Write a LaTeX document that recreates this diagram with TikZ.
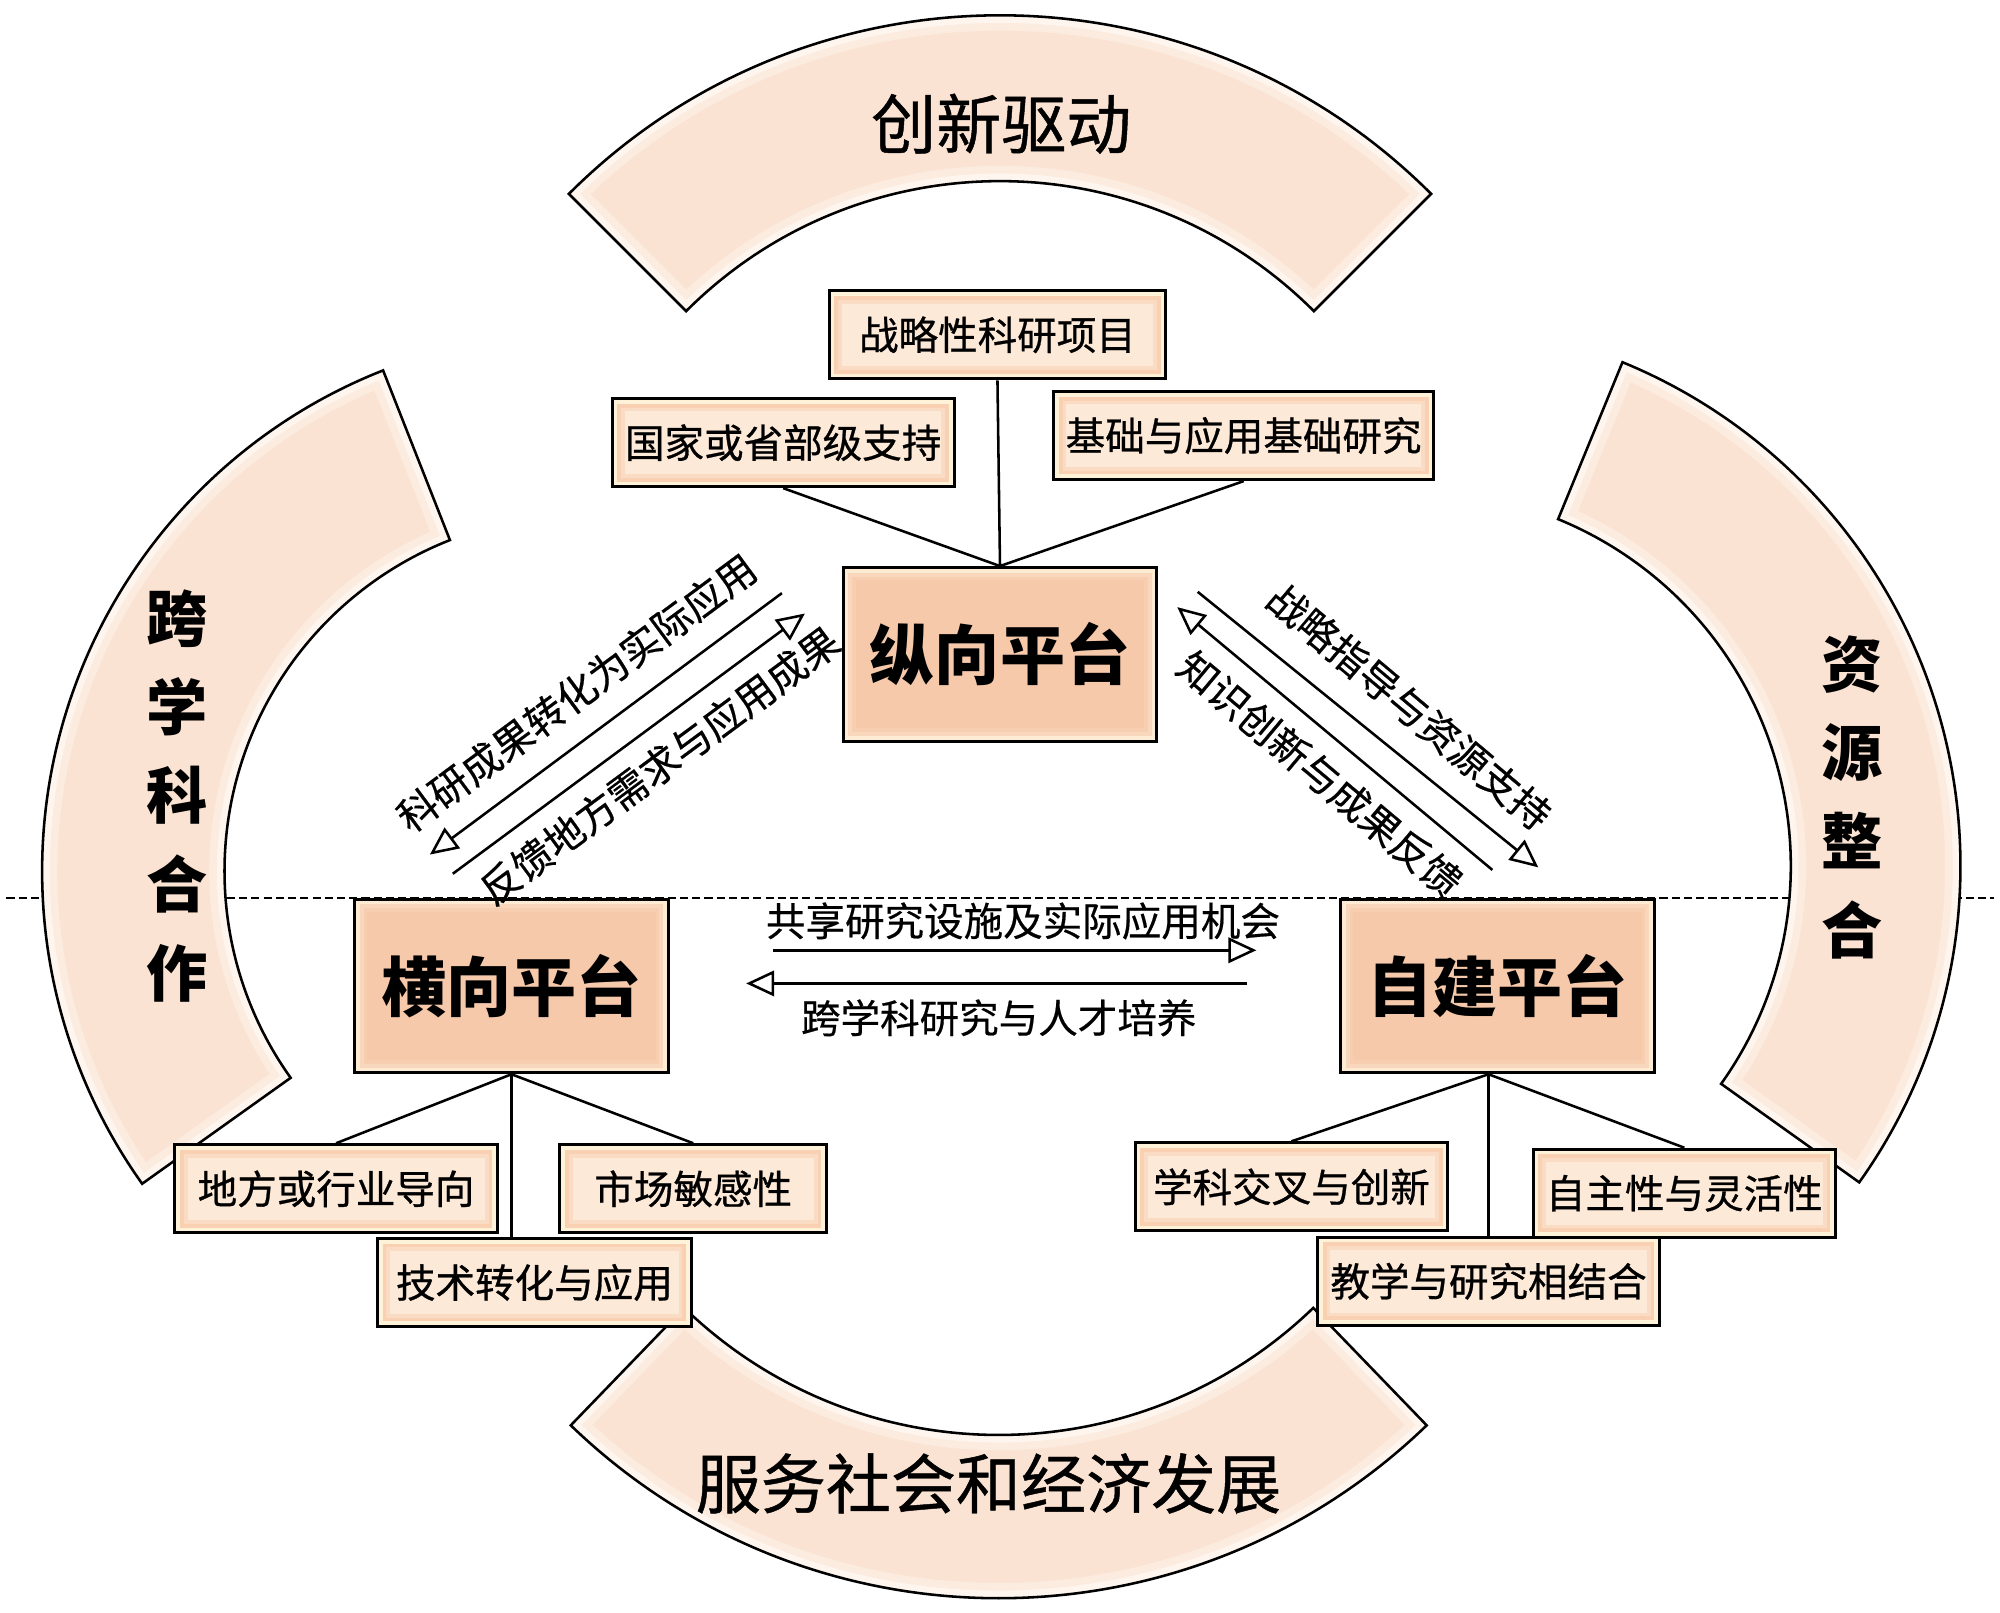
\documentclass[tikz,border=0pt]{standalone}
\usepackage{fontspec}
\setmainfont{Noto Sans CJK SC}
\newfontfamily\medf[FakeBold=0.7]{Noto Sans CJK SC}
\newfontfamily\lightmedf[FakeBold=0.45]{Noto Sans CJK SC}
\usetikzlibrary{arrows.meta,calc}
\definecolor{arcfill}{HTML}{FBE3D3}
\definecolor{arcedgeA}{HTML}{FCEBDF}
\definecolor{arcedgeB}{HTML}{FEF5EE}
\definecolor{pA}{HTML}{FDECD3}
\definecolor{pB}{HTML}{F9D7BC}
\definecolor{pC}{HTML}{F8CEB1}
\definecolor{pD}{HTML}{F7C9AB}
\definecolor{sA}{HTML}{FEF2D9}
\definecolor{sB}{HTML}{F9D0B2}
\definecolor{sC}{HTML}{FADBC4}
\definecolor{sD}{HTML}{FDE9D8}
\tikzset{
  sector/.style n args={6}{insert path={(#1,#2) ++(#5:#3) arc[start angle=#5, end angle=#6, radius=#3] -- ($(#1,#2)+(#6:#4)$) arc[start angle=#6, end angle=#5, radius=#4] -- cycle}},
  layers/.style n args={4}{path picture={
    \fill[#1] (path picture bounding box.south west) rectangle (path picture bounding box.north east);
    \fill[#2] ([shift={(2pt,2pt)}]path picture bounding box.south west) rectangle ([shift={(-2pt,-2pt)}]path picture bounding box.north east);
    \fill[#3] ([shift={(3.5pt,3.5pt)}]path picture bounding box.south west) rectangle ([shift={(-3.5pt,-3.5pt)}]path picture bounding box.north east);
    \fill[#4] ([shift={(5pt,5pt)}]path picture bounding box.south west) rectangle ([shift={(-5pt,-5pt)}]path picture bounding box.north east);
  }},
  platbox/.style={draw=black, line width=1.2pt, minimum width=123pt, minimum height=68pt, inner sep=0pt,
    layers={pA}{pB}{pC}{pD}, font=\fontsize{25.5pt}{30pt}\selectfont\bfseries},
  subbox/.style={draw=black, line width=1.2pt, minimum height=34.5pt, inner sep=0pt,
    layers={sA}{sB}{sC}{sD}, font=\medf\fontsize{15.5pt}{18pt}\selectfont},
  arclabel/.style={inner sep=0pt, font=\medf\fontsize{25.5pt}{30pt}\selectfont},
  vlabel/.style={inner sep=0pt, align=center, font=\fontsize{24pt}{34.75pt}\selectfont\bfseries},
  alabel/.style={inner sep=0pt, font=\lightmedf\fontsize{15.5pt}{18pt}\selectfont},
  conn/.style={line width=1pt},
  arr/.style={line width=1pt, -{Triangle[open, length=11pt, width=10pt]}},
  dline/.style={line width=0.8pt, dash pattern=on 3.2pt off 1.6pt}
}
\begin{document}
\begin{tikzpicture}[x=0.5pt,y=-0.5pt]
\useasboundingbox (0,0) rectangle (1568,1264);
\fill[white] (0,0) rectangle (1568,1264);

% dashed horizontal line
\coordinate (dl) at (5,704);
\coordinate (dr) at (1563,704);
\draw[dline] (dl) -- (dr);

% block arcs
\foreach \cx/\cy/\R/\r/\a/\b in {784/490/478/348/-135/-45, 783/770/483/355/134/46, 455/683/422/279/-111.5/-215.5, 1110/679/427/294/-67.7/35.5} {
  \fill[arcfill, sector={\cx}{\cy}{\R}{\r}{\a}{\b}];
  \begin{scope}
    \clip[sector={\cx}{\cy}{\R}{\r}{\a}{\b}];
    \draw[arcedgeA, line width=12pt, sector={\cx}{\cy}{\R}{\r}{\a}{\b}];
    \draw[arcedgeB, line width=6pt, sector={\cx}{\cy}{\R}{\r}{\a}{\b}];
  \end{scope}
  \draw[line width=1pt, line join=miter, sector={\cx}{\cy}{\R}{\r}{\a}{\b}];
}

\node[arclabel] (t1) at (785,97) {创新驱动};
\node[arclabel] (t2) at (775,1163) {服务社会和经济发展};
\node[vlabel] (t3) at (139,624) {跨\\学\\科\\合\\作};
\node[vlabel] (t4) at (1452,625) {资\\源\\整\\合};

% platforms
\node[platbox] (zx) at (784,513) {纵向平台};
\node[platbox] (hx) at (401,773) {横向平台};
\node[platbox] (zj) at (1174,773) {自建平台};

% sub boxes
\node[subbox, minimum width=132pt] (zl) at (782,262.5) {战略性科研项目};
\node[subbox, minimum width=134pt] (gj) at (614,347) {国家或省部级支持};
\node[subbox, minimum width=149pt] (jc) at (975,341.5) {基础与应用基础研究};
\node[subbox, minimum width=126.5pt] (df) at (263.5,932) {地方或行业导向};
\node[subbox, minimum width=104.5pt] (sc) at (543.5,932) {市场敏感性};
\node[subbox, minimum width=123pt] (js) at (419,1005.5) {技术转化与应用};
\node[subbox, minimum width=122.5pt] (xk) at (1012.5,930.5) {学科交叉与创新};
\node[subbox, minimum width=118.5pt] (zz) at (1320.5,935.5) {自主性与灵活性};
\node[subbox, minimum width=134pt] (jx) at (1167,1004.5) {教学与研究相结合};

% tree connectors
\draw[conn] (zx.north) -- (zl.south);
\draw[conn] (zx.north) -- (gj.south);
\draw[conn] (zx.north) -- (jc.south);
\draw[conn] (hx.south) -- (df.north);
\draw[conn] (hx.south) -- (sc.north);
\draw[conn] (hx.south) -- (hx.south |- js.north);
\coordinate (zjb) at ($(zj.south)+(-7,0)$);
\draw[conn] (zjb) -- (xk.north);
\draw[conn] (zjb) -- (zz.north);
\draw[conn] (zjb) -- (zjb |- jx.north);

% arrows between platforms
\coordinate (a1s) at (613,465); \coordinate (a1e) at (337,670);
\coordinate (a2s) at (355,685); \coordinate (a2e) at (631,481);
\coordinate (a3s) at (939,464); \coordinate (a3e) at (1206,680);
\coordinate (a4s) at (1170,682); \coordinate (a4e) at (923,476);
\coordinate (a5s) at (606,745); \coordinate (a5e) at (985,745);
\coordinate (a6s) at (978,771); \coordinate (a6e) at (585,771);
\draw[arr] (a1s) -- (a1e);
\draw[arr] (a2s) -- (a2e);
\draw[arr] (a3s) -- (a3e);
\draw[arr] (a4s) -- (a4e);
\draw[arr] (a5s) -- (a5e);
\draw[arr] (a6s) -- (a6e);

\node[alabel, rotate=36.5] (l1) at (452,543) {科研成果转化为实际应用};
\node[alabel, rotate=36.5] (l2) at (517,600) {反馈地方需求与应用成果};
\node[alabel, rotate=-40] (l3) at (1105,554) {战略指导与资源支持};
\node[alabel, rotate=-40] (l4) at (1035,607) {知识创新与成果反馈};
\node[alabel] (l5) at (802,722) {共享研究设施及实际应用机会};
\node[alabel] (l6) at (783,798) {跨学科研究与人才培养};
\end{tikzpicture}
\end{document}
